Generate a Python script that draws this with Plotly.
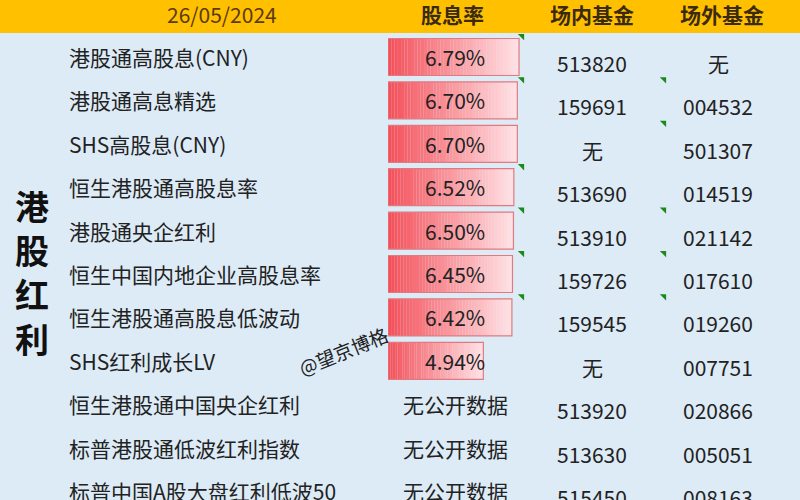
import plotly.graph_objects as go

names = ["港股通高股息(CNY)","港股通高息精选","SHS高股息(CNY)","恒生港股通高股息率","港股通央企红利",
         "恒生中国内地企业高股息率","恒生港股通高股息低波动","SHS红利成长LV","恒生港股通中国央企红利",
         "标普港股通低波红利指数","标普中国A股大盘红利低波50"]
yields = [6.79,6.70,6.70,6.52,6.50,6.45,6.42,4.94,None,None,None]
onsite = ["513820","159691","无","513690","513910","159726","159545","无","513920","513630","515450"]
offsite = ["无","004532","501307","014519","021142","017610","019260","007751","020866","005051","008163"]
headers = ["26/05/2024","股息率","场内基金","场外基金"]
group_label = "港<br>股<br>红<br>利"

W, H = 800, 500
row_y = [57 + 43.4*i for i in range(len(names))]
font = "Noto Sans CJK SC"
txt = "#222"

fig = go.Figure()
nseg = 40
for s in range(nseg):
    t = s/(nseg-1)
    r, g, b = 244 + (255-244)*t, 80 + (225-80)*t, 90 + (228-90)*t
    xs, ys, bases = [], [], []
    for v, y in zip(yields, row_y):
        if v is None: continue
        xs.append(v/nseg*1.02); ys.append(y); bases.append(v*s/nseg)
    fig.add_trace(go.Bar(x=xs, y=ys, base=bases, orientation="h", xaxis="x2", yaxis="y",
                         marker=dict(color=f"rgb({r:.0f},{g:.0f},{b:.0f})", line=dict(width=0)),
                         width=37, showlegend=False, hoverinfo="skip"))
fig.add_trace(go.Bar(x=[v for v in yields if v], y=[y for v, y in zip(yields, row_y) if v], orientation="h",
                     xaxis="x2", yaxis="y", marker=dict(color="rgba(0,0,0,0)", line=dict(color="#e07a80", width=1.2)),
                     width=37, showlegend=False, hoverinfo="skip"))

fig.update_layout(barmode="overlay", width=W, height=H, margin=dict(l=0, r=0, t=0, b=0, autoexpand=False),
                  paper_bgcolor="#DDEBF7", plot_bgcolor="rgba(0,0,0,0)",
                  xaxis=dict(range=[0, W], visible=False, domain=[0, 1]),
                  xaxis2=dict(range=[0, (W-388)/19.3], domain=[388/W, 1], visible=False, anchor="y"),
                  yaxis=dict(range=[H, 0], visible=False, domain=[0, 1]))
fig.add_shape(type="rect", xref="paper", yref="paper", x0=0, x1=1, y0=1-33/H, y1=1,
              fillcolor="#FFC000", line_width=0, layer="below")

def ann(x, y, text, size=21, color=txt, xanchor="center", **kw):
    fig.add_annotation(x=x, y=y, xref="x", yref="y", text=text, showarrow=False,
                       font=dict(family=font, size=size, color=color), xanchor=xanchor, **kw)

ann(222, 14, headers[0], size=21, color="#5b3a12")
for x, h in zip([452, 592, 722], headers[1:]):
    ann(x, 14, f"<b>{h}</b>", size=21, color="#3a2a10")

for i, y in enumerate(row_y):
    ann(67, y, names[i], xanchor="left")
    if yields[i] is not None:
        ann(455, y, f"{yields[i]:.2f}%")
    else:
        ann(455, y, "无公开数据")
    ann(592, y + 6, onsite[i])
    ann(718, y + 6, offsite[i])

ann(32, 272, f"<b>{group_label}</b>", size=34, color="#111")
ann(343, 350, "@望京博格", size=19, color="#222", textangle=-22)

tx = [522]*6 + [664]*5
ty = [row_y[i]-21 for i in [0,1,3,4,5,6]] + [row_y[i]-21 for i in [1,2,4,5,6]]
fig.add_trace(go.Scatter(x=tx, y=ty, mode="markers", xaxis="x", yaxis="y",
                         marker=dict(symbol="triangle-ne", size=7, color="#1a8a1a"),
                         showlegend=False, hoverinfo="skip"))
fig.write_html("out.html", config={"displayModeBar": False},
               post_script="document.body.style.margin='0';document.body.style.overflow='hidden';")
